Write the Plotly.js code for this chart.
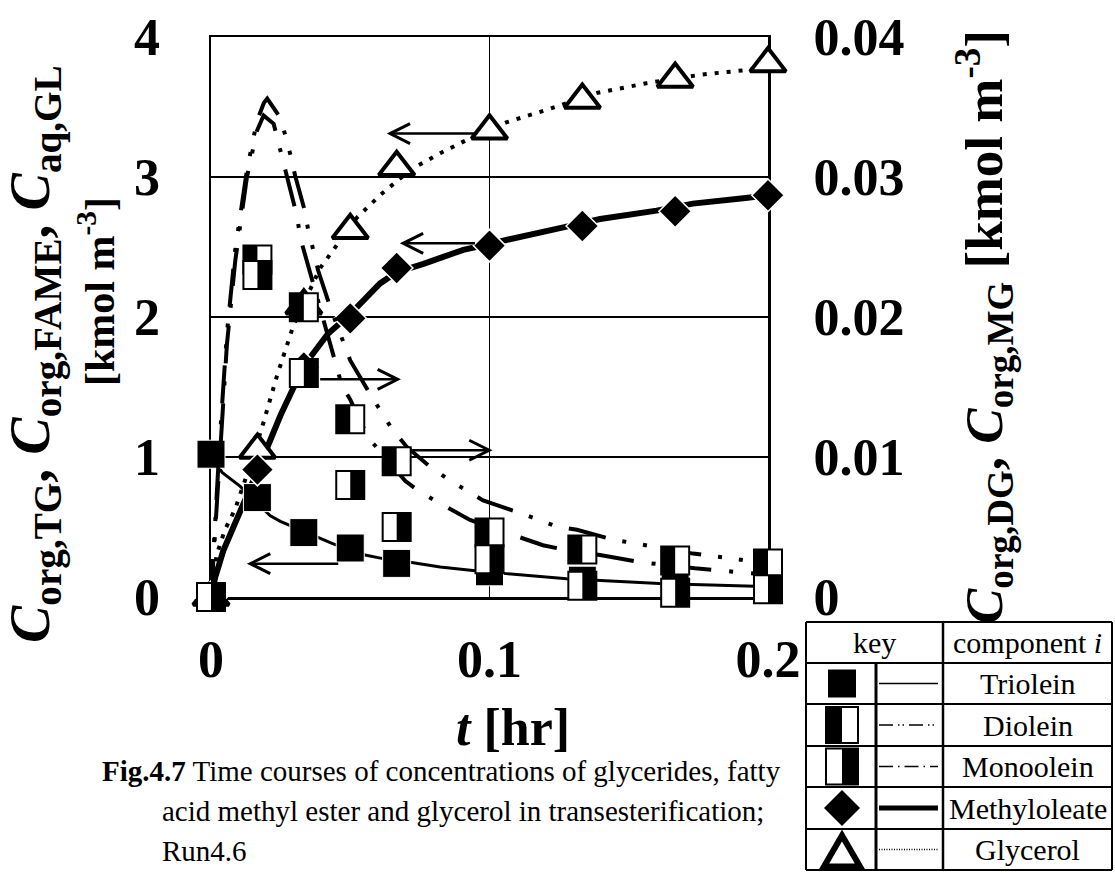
<!DOCTYPE html>
<html>
<head>
<meta charset="utf-8">
<script src="https://cdn.plot.ly/plotly-3.0.1.min.js"></script>
<style>
  html, body { margin: 0; padding: 0; background: #fff; }
  #chart { width: 1115px; height: 873px; }
</style>
</head>
<body>
<div id="chart"></div>
<script>
// ---- measured concentrations [kmol m^-3] at the sampling times [hr] ----
const tData = [0, 1/60, 2/60, 3/60, 4/60, 6/60, 8/60, 10/60, 12/60];
const trioleinData     = [1.02, 0.71, 0.46, 0.35, 0.24, 0.18, 0.12, 0.095, 0.08];
const methyloleateData = [0, 0.91, 1.64, 1.99, 2.35, 2.51, 2.65, 2.755, 2.87];
const glycerolData     = [0, 1.05, 2.08, 2.62, 3.07, 3.33, 3.55, 3.70, 3.81];
const dioleinData      = [0, 0.0241, 0.0207, 0.0127, 0.0097, 0.0046, 0.0034, 0.0026, 0.0024];
const monooleinData    = [0, 0.0230, 0.0160, 0.0080, 0.0050, 0.0027, 0.0008, 0.0003, 0.00055];

// ---- model curves ----
const tTG  = [0, 0.004, 0.0105, 0.0213, 0.0249, 0.0392, 0.0439, 0.0553, 0.0613, 0.0726, 0.0823, 0.094, 0.106, 0.1277, 0.1397, 0.161, 0.173, 0.194, 0.2];
const mTG  = [1.01, 0.89, 0.79, 0.58, 0.54, 0.42, 0.38, 0.30, 0.276, 0.245, 0.215, 0.19, 0.167, 0.131, 0.119, 0.096, 0.09, 0.076, 0.075];

const tFAME = [0, 0.0015, 0.0044, 0.0105, 0.0167, 0.025, 0.0333, 0.042, 0.05, 0.0607, 0.0667, 0.0763, 0.0906, 0.1, 0.106, 0.1265, 0.1397, 0.16, 0.173, 0.192, 0.2];
const mFAME = [0, 0.14, 0.33, 0.60, 0.90, 1.30, 1.65, 1.88, 2.02, 2.24, 2.32, 2.38, 2.48, 2.52, 2.55, 2.64, 2.70, 2.76, 2.81, 2.85, 2.87];

const tGL = [0, 0.002, 0.005, 0.0087, 0.0125, 0.0183, 0.0237, 0.0296, 0.0392, 0.044, 0.0524, 0.0607, 0.0715, 0.0823, 0.0924, 0.106, 0.1206, 0.1385, 0.1564, 0.1756, 0.191, 0.2];
const mGL = [0, 0.30, 0.48, 0.63, 0.85, 1.21, 1.58, 1.94, 2.35, 2.48, 2.71, 2.87, 3.05, 3.17, 3.27, 3.39, 3.48, 3.60, 3.67, 3.73, 3.76, 3.78];

const tDG = [0, 0.0015, 0.0033, 0.0057, 0.0087, 0.0129, 0.0165, 0.019, 0.0202, 0.0243, 0.0267, 0.0285, 0.0302, 0.0338, 0.0349, 0.0367, 0.0385, 0.0428, 0.05, 0.0571, 0.065, 0.0704, 0.0787, 0.0859, 0.092, 0.0977, 0.111, 0.1246, 0.1314, 0.1444, 0.1587, 0.1731, 0.1864, 0.2];
const mDG = [0, 0.0055, 0.0117, 0.0188, 0.0248, 0.0305, 0.0340, 0.0353, 0.0356, 0.0344, 0.0330, 0.0316, 0.0301, 0.0275, 0.0262, 0.0248, 0.0233, 0.0207, 0.0169, 0.0145, 0.0120, 0.0107, 0.0093, 0.0083, 0.0076, 0.0069, 0.0060, 0.0050, 0.0048, 0.0041, 0.0036, 0.0031, 0.00277, 0.0024];

const tMG = [0, 0.0015, 0.0033, 0.0057, 0.0087, 0.0129, 0.0165, 0.0189, 0.0225, 0.0241, 0.0259, 0.0292, 0.031, 0.032, 0.0356, 0.047, 0.05, 0.0564, 0.0697, 0.0751, 0.0812, 0.093, 0.1067, 0.1192, 0.1264, 0.1397, 0.1537, 0.1738, 0.1935, 0.2];
const mMG = [0, 0.0050, 0.0110, 0.0180, 0.0240, 0.0300, 0.0333, 0.0344, 0.0338, 0.0325, 0.0311, 0.0286, 0.0271, 0.0257, 0.0231, 0.0151, 0.0141, 0.0114, 0.0083, 0.0075, 0.0068, 0.0055, 0.00455, 0.0037, 0.0034, 0.0030, 0.0025, 0.00205, 0.0017, 0.0016];

// ---- tick labels ----
const xTicks  = [0, 0.1, 0.2];
const xLabels = ['0', '0.1', '0.2'];
const yTicks  = [0, 1, 2, 3, 4];
const y2Ticks = [0, 0.01, 0.02, 0.03, 0.04];
const y2Labels = ['0', '0.01', '0.02', '0.03', '0.04'];

// ---- key table rows ----
const keyNames = ['Triolein', 'Diolein', 'Monoolein', 'Methyloleate', 'Glycerol'];

const FONT = '"Liberation Serif", "Times New Roman", serif';
const W = 1115, H = 873;
const M = { l: 211, r: 347, t: 37, b: 276 };
const PW = W - M.l - M.r, PH = H - M.t - M.b;
// page pixel -> paper fraction (for annotations and the key table)
const px = X => (X - M.l) / PW;
const py = Y => (H - M.b - Y) / PH;

const black = '#000';

// split square: white square with border, then a black bar pushed to one side
// (line-ew is drawn 1.4*size long; the standoff shifts it sideways once rotated)
const SQ = 28;
const splitSquare = (y, side) => [
  { x: tData, y: y, mode: 'markers', yaxis: 'y2', cliponaxis: false,
    marker: { symbol: 'square', size: SQ, color: '#fff', line: { color: black, width: 2 } } },
  { x: tData, y: y, mode: 'markers', yaxis: 'y2', cliponaxis: false,
    marker: { symbol: 'line-ew', size: SQ / 1.4, angle: side === 'left' ? 90 : -90, standoff: SQ / 4,
              line: { color: black, width: SQ / 2 } } }
];

const traces = [
  // model curves
  { x: tTG, y: mTG, mode: 'lines', line: { color: black, width: 3 }, yaxis: 'y' },
  { x: tFAME, y: mFAME, mode: 'lines', line: { color: black, width: 6 }, yaxis: 'y' },
  { x: tGL, y: mGL, mode: 'lines', line: { color: black, width: 4, dash: '4px,8px' }, yaxis: 'y' },
  // measured points, left axis
  { x: tData, y: trioleinData, mode: 'markers', cliponaxis: false,
    marker: { symbol: 'square', size: 28, color: black, line: { color: '#fff', width: 1 } } },
  { x: tData, y: glycerolData, mode: 'markers', cliponaxis: false,
    marker: { symbol: 'triangle-up', size: 31, color: '#fff', line: { color: black, width: 4 } } },
  { x: tData, y: methyloleateData, mode: 'markers', cliponaxis: false,
    marker: { symbol: 'diamond', size: 25, color: black, line: { color: '#fff', width: 1.5 } } },
  // model curves, right axis
  { x: tDG, y: mDG, mode: 'lines', yaxis: 'y2', line: { color: black, width: 4, dash: '38px,17px,4px,17px,4px,17px' } },
  { x: tMG, y: mMG, mode: 'lines', yaxis: 'y2', line: { color: black, width: 4, dash: '38px,18px,4px,18px' } }
].concat(splitSquare(dioleinData, 'left'), splitSquare(monooleinData, 'right'));

const tickFont = { family: FONT, size: 52, color: black, weight: 'bold' };
const axisCommon = {
  showline: true, linecolor: black, linewidth: 2.5,
  showgrid: true, gridcolor: black, gridwidth: 1.3,
  zeroline: false, ticks: 'outside', tickcolor: 'rgba(0,0,0,0)',
  tickfont: tickFont, layer: 'below traces', fixedrange: true
};

const shapes = [];

// direction arrows (pointing to the axis each series is read on)
const arrow = (x0, x1, y, yref) => {
  shapes.push({ type: 'line', xref: 'x', yref: yref, x0: x0, x1: x1, y0: y, y1: y,
                line: { color: black, width: 2.5 } });
  const d = x1 > x0 ? -1 : 1;
  shapes.push({ type: 'path', xref: 'x', yref: yref, xsizemode: 'pixel', ysizemode: 'pixel',
                xanchor: x1, yanchor: y, path: `M${20 * d},10L0,0L${20 * d},-10`,
                line: { color: black, width: 3 } });
};
arrow(0.0956, 0.0643, 3.31, 'y');
arrow(0.0948, 0.0690, 2.526, 'y');
arrow(0.0457, 0.0141, 0.238, 'y');
arrow(0.0392, 0.0670, 0.01555, 'y2');
arrow(0.0723, 0.0999, 0.01048, 'y2');

// ---- key table ----
const T = { l: 806, r: 1112, t: 622, b: 870, key: 943, mid: 876 };
const rowLines = [663, 704, 746, 787, 829];
const rowMid = [683.5, 725, 766.5, 808, 849.5];
const ln = (x0, y0, x1, y1, w, dash) => shapes.push({
  type: 'line', xref: 'paper', yref: 'paper', x0: px(x0), y0: py(y0), x1: px(x1), y1: py(y1),
  line: { color: black, width: w, dash: dash || 'solid' }
});
ln(T.l, T.t, T.r, T.t, 2); ln(T.l, T.b, T.r, T.b, 2);
ln(T.l, T.t, T.l, T.b, 2); ln(T.r, T.t, T.r, T.b, 2);
ln(T.key, T.t, T.key, T.b, 2.5);
ln(T.mid, rowLines[0], T.mid, T.b, 3);
rowLines.forEach(y => ln(T.l, y, T.r, y, 1.8));

// line samples
const sampleX0 = 879, sampleX1 = 938;
ln(sampleX0, rowMid[0], sampleX1, rowMid[0], 1.5);
ln(sampleX0, rowMid[1], sampleX1, rowMid[1], 1.5, '14px,5px,1.5px,3px,1.5px,5px');
ln(sampleX0, rowMid[2], sampleX1, rowMid[2], 1.5, '14px,5px,1.5px,5px');
ln(sampleX0, rowMid[3], sampleX1, rowMid[3], 5);
ln(sampleX0, rowMid[4], sampleX1, rowMid[4], 1.5, '1px,1.5px');

// key symbols (pixel paths anchored at the symbol centre)
const sym = (cx, cy, path, fill, lw) => shapes.push({
  type: 'path', xref: 'paper', yref: 'paper', xsizemode: 'pixel', ysizemode: 'pixel',
  xanchor: px(cx), yanchor: py(cy), path: path, fillcolor: fill,
  line: { color: black, width: lw }
});
const cxKey = 842;
sym(cxKey, rowMid[0], 'M-14,-14H14V14H-14Z', black, 0);
sym(cxKey, rowMid[1], 'M-16,-18H16V18H-16Z', '#fff', 2);
sym(cxKey, rowMid[1], 'M-16,-18H0V18H-16Z', black, 0);
sym(cxKey, rowMid[2], 'M-16,-18H16V18H-16Z', '#fff', 2);
sym(cxKey, rowMid[2], 'M0,-18H16V18H0Z', black, 0);
sym(cxKey, rowMid[3], 'M-18,0L0,18L18,0L0,-18Z', black, 0);
sym(cxKey, rowMid[4] + 2, 'M-18,-15L18,-15L0,16Z', '#fff', 6);

const annotations = [];
const txt = (X, Y, text, size, extra) => annotations.push(Object.assign({
  xref: 'paper', yref: 'paper', x: px(X), y: py(Y), text: text, showarrow: false,
  font: { family: FONT, size: size, color: black }, xanchor: 'center', yanchor: 'middle'
}, extra || {}));
const boldFont = size => ({ family: FONT, size: size, color: black, weight: 'bold' });

txt((T.l + T.key) / 2, 642, 'key', 30);
txt((T.key + T.r) / 2, 642, 'component <i>i</i>', 30);
keyNames.forEach((n, i) => txt((T.key + T.r) / 2, rowMid[i], n, 30));

// axis titles
txt(34, 354, '<i>C</i><sub>org,TG</sub>, <i>C</i><sub>org,FAME</sub>, <i>C</i><sub>aq,GL</sub>', 56,
  { textangle: -90, font: boldFont(56) });
txt(96, 292, '[kmol m<sup>-3</sup>]', 42, { textangle: -90, font: boldFont(42) });
txt(984, 327, '<i>C</i><sub>org,DG</sub>, <i>C</i><sub>org,MG</sub> [kmol m<sup>-3</sup>]', 53,
  { textangle: -90, font: boldFont(53) });
txt(513, 727, '<i>t</i> [hr]', 52, { font: boldFont(52) });

// caption
txt(100, 771, '<b>Fig.4.7</b> Time courses of concentrations of glycerides, fatty', 29, { xanchor: 'left' });
txt(160, 811, 'acid methyl ester and glycerol in transesterification;', 29, { xanchor: 'left' });
txt(160, 851, 'Run4.6', 29, { xanchor: 'left' });

const layout = {
  width: W, height: H, margin: M, showlegend: false,
  paper_bgcolor: '#fff', plot_bgcolor: '#fff',
  font: { family: FONT, color: black },
  xaxis: Object.assign({}, axisCommon, {
    range: [0, 0.2], tickvals: xTicks, ticktext: xLabels, ticklen: 15, mirror: true
  }),
  yaxis: Object.assign({}, axisCommon, {
    range: [0, 4], tickvals: yTicks, ticklen: 38, mirror: true
  }),
  yaxis2: Object.assign({}, axisCommon, {
    overlaying: 'y', side: 'right', range: [0, 0.04], tickvals: y2Ticks, ticktext: y2Labels,
    showgrid: false, showline: false, ticklen: 34
  }),
  shapes: shapes,
  annotations: annotations
};

Plotly.newPlot('chart', traces, layout, { staticPlot: true, displayModeBar: false });
</script>
</body>
</html>
